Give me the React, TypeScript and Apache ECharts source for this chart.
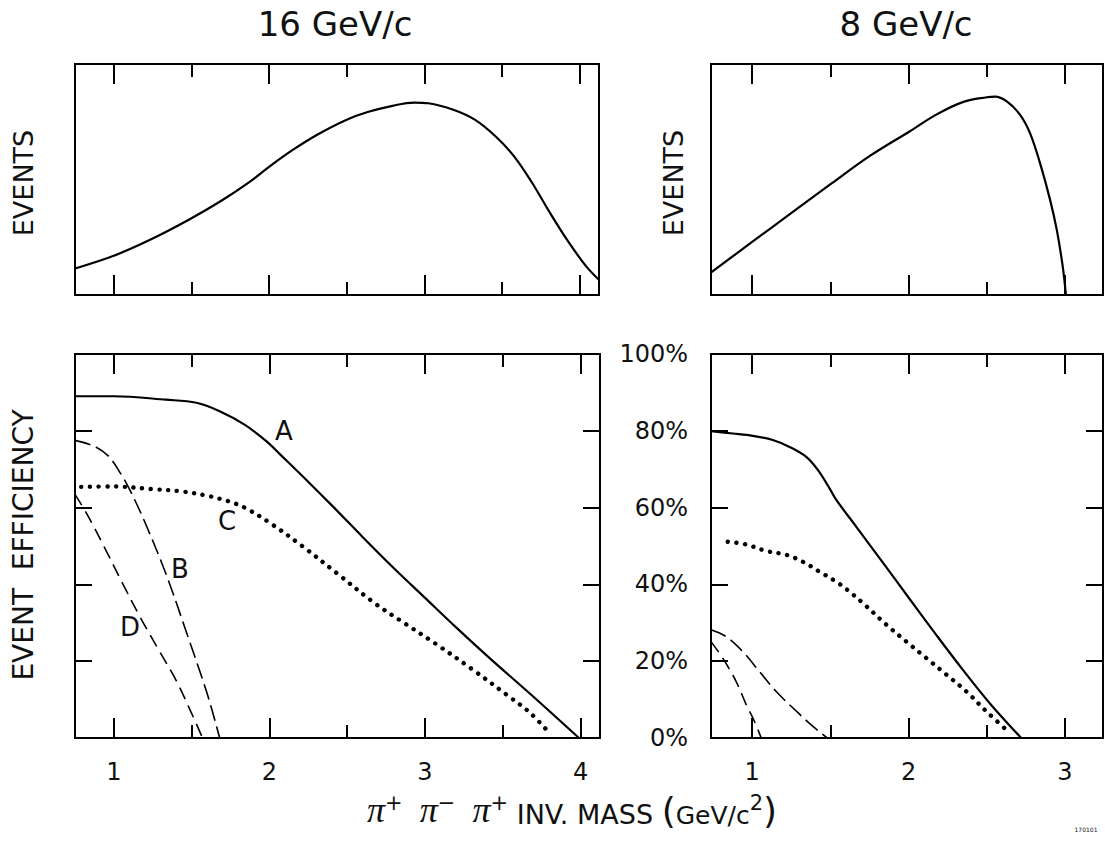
import React, { useEffect, useRef } from "react";
import * as echarts from "echarts";

const FONT = "DejaVu Sans";

// ---- data (mass in GeV/c^2) ----
// 16 GeV/c : events spectrum (arbitrary units)
const ev16Mass = [0.751, 1.0, 1.23, 1.483, 1.69, 1.875, 2.0, 2.15, 2.31, 2.5, 2.635, 2.795, 2.934, 3.026, 3.187, 3.325, 3.463, 3.578, 3.694, 3.809, 3.924, 4.04, 4.124];
const ev16Events = [11.5, 17, 23.8, 32.6, 40.7, 49.0, 55.5, 62.7, 69.4, 75.9, 79.2, 81.9, 83.3, 83, 80.2, 75.9, 68.4, 60, 48.6, 35.6, 23.4, 12.6, 6.6];
// 8 GeV/c : events spectrum
const ev8Mass = [0.738, 1.0, 1.245, 1.51, 1.755, 2.006, 2.18, 2.351, 2.5, 2.553, 2.628, 2.713, 2.777, 2.84, 2.904, 2.947, 2.985, 3.006];
const ev8Events = [9.8, 23, 35.2, 48.4, 60.3, 70.8, 78.2, 83.6, 85.6, 85.9, 83.8, 78, 70, 57.2, 41.4, 28.4, 12.6, 0];

// 16 GeV/c efficiencies (%)
const eff16AMass = [0.749, 1.0, 1.335, 1.53, 1.68, 1.84, 1.98, 2.07, 2.26, 2.42, 2.6, 2.79, 3.0, 3.2, 3.41, 3.69, 3.99];
const eff16A = [89, 89, 88.1, 87.3, 85.1, 81.6, 77.3, 73.8, 66.3, 59.8, 52.3, 44.6, 36.5, 28.8, 21.0, 11.0, 0];
const eff16BMass = [0.749, 0.873, 0.965, 1.046, 1.1, 1.196, 1.335, 1.47, 1.6, 1.68];
const eff16B = [77.5, 76, 73.4, 68.7, 64.8, 56.5, 42.7, 27.1, 11.5, 0];
const eff16CMass = [0.79, 0.99, 1.25, 1.44, 1.61, 1.74, 1.84, 2.0, 2.21, 2.44, 2.67, 2.86, 3.07, 3.3, 3.53, 3.67, 3.78];
const eff16C = [65.4, 65.5, 64.8, 64.2, 63.0, 61.6, 60.0, 56.1, 50.0, 42.7, 35.3, 30.1, 24.5, 18.0, 11.1, 6.75, 2.2];
const eff16DMass = [0.749, 0.827, 0.94, 1.058, 1.17, 1.29, 1.4, 1.496, 1.57];
const eff16D = [63.5, 58.3, 49.6, 40.1, 31.4, 22.8, 15.0, 6.75, 0];

// 8 GeV/c efficiencies (%)
const eff8AMass = [0.737, 0.876, 1.004, 1.132, 1.239, 1.346, 1.42, 1.495, 1.538, 1.666, 1.837, 2.007, 2.178, 2.35, 2.52, 2.72];
const eff8A = [79.9, 79.3, 78.7, 77.6, 75.8, 73.2, 69.8, 65.0, 62.0, 55.0, 45.6, 36.2, 26.8, 17.6, 9.0, 0];
const eff8BMass = [0.737, 0.834, 0.94, 1.047, 1.154, 1.303, 1.389, 1.48];
const eff8B = [28.2, 26.4, 22.5, 17.3, 12.1, 6.2, 3.0, 0];
const eff8CMass = [0.844, 0.962, 1.09, 1.218, 1.324, 1.431, 1.538, 1.623, 1.72, 1.858, 1.986, 2.114, 2.242, 2.37, 2.498, 2.648];
const eff8C = [51.1, 50.4, 48.7, 47.7, 45.9, 43.3, 40.7, 38.1, 34.7, 29.5, 25.1, 20.8, 16.5, 12.1, 6.9, 1.3];
const eff8DMass = [0.737, 0.812, 0.898, 0.962, 1.015, 1.058];
const eff8D = [25.1, 20.8, 14.7, 8.7, 4.3, 0];

// ticks
const ticks16Major = [1, 2, 3, 4];
const ticks16Minor = [1.5, 2.5, 3.5];
const ticks8Major = [1, 2, 3];
const ticks8Minor = [1.5, 2.5];
const effTicks = [20, 40, 60, 80];
const effLabels = [0, 20, 40, 60, 80, 100];

const zip = (xs: number[], ys: number[]) => xs.map((x, i) => [x, ys[i]]);

function xAxesFor(gi: number, min: number, max: number, major: number[], minor: number[], labels: boolean) {
  const base: any = {
    type: "value",
    gridIndex: gi,
    min,
    max,
    splitLine: { show: false },
    axisLine: { show: false },
  };
  const tick = (vals: number[], len: number) => ({
    show: true,
    inside: true,
    length: len,
    customValues: vals,
    lineStyle: { color: "#000", width: 2 },
  });
  return [
    {
      ...base,
      position: "bottom",
      axisTick: tick(major, 20),
      axisLabel: labels
        ? { show: true, customValues: major, fontSize: 24, color: "#111", fontFamily: FONT, margin: 22 }
        : { show: false },
    },
    { ...base, position: "bottom", axisTick: tick(minor, 13), axisLabel: { show: false } },
    { ...base, position: "top", axisTick: tick(major, 20), axisLabel: { show: false } },
    { ...base, position: "top", axisTick: tick(minor, 13), axisLabel: { show: false } },
  ];
}

function effYAxis(gi: number, position: string, labels: boolean) {
  return {
    type: "value",
    gridIndex: gi,
    min: 0,
    max: 100,
    position,
    splitLine: { show: false },
    axisLine: { show: false },
    axisTick: { show: true, inside: true, length: 17, customValues: effTicks, lineStyle: { color: "#000", width: 2 } },
    axisLabel: labels
      ? { show: true, customValues: effLabels, formatter: "{value}%", fontSize: 24, color: "#111", fontFamily: FONT, margin: 23 }
      : { show: false },
  };
}

export default function App() {
  const ref = useRef<HTMLDivElement>(null);
  useEffect(() => {
    document.body.style.margin = "0";
    const chart = echarts.init(ref.current!, undefined, { renderer: "svg" });

    const gridStyle = { show: true, borderColor: "#000", borderWidth: 2, backgroundColor: "transparent" };
    const grids = [
      { left: 75, top: 64, width: 524, height: 231, ...gridStyle },
      { left: 711, top: 64, width: 392, height: 231, ...gridStyle },
      { left: 75, top: 354, width: 525, height: 384, ...gridStyle },
      { left: 711, top: 354, width: 392, height: 384, ...gridStyle },
    ];

    const xAxis = [
      ...xAxesFor(0, 0.75, 4.125, ticks16Major, ticks16Minor, false),
      ...xAxesFor(1, 0.737, 3.243, ticks8Major, ticks8Minor, false),
      ...xAxesFor(2, 0.75, 4.125, ticks16Major, ticks16Minor, true),
      ...xAxesFor(3, 0.737, 3.243, ticks8Major, ticks8Minor, true),
    ];

    const yAxis = [
      { type: "value", gridIndex: 0, min: 0, max: 100, show: false, splitLine: { show: false } },
      { type: "value", gridIndex: 1, min: 0, max: 100, show: false, splitLine: { show: false } },
      effYAxis(2, "left", false),
      effYAxis(2, "right", false),
      effYAxis(3, "left", true),
      effYAxis(3, "right", false),
    ];

    const solid = { color: "#000", width: 2.2, type: "solid" };
    const longDash = { color: "#000", width: 1.6, type: [16, 6] };
    const dashed = { color: "#000", width: 1.6, type: [13, 7] };
    const dotted = { color: "#000", width: 4.4, type: [0.1, 8.6], cap: "round" };

    const line = (name: string, data: number[][], xi: number, yi: number, lineStyle: any) => ({
      name,
      type: "line",
      data,
      xAxisIndex: xi,
      yAxisIndex: yi,
      showSymbol: false,
      symbol: "none",
      smooth: 0.35,
      silent: true,
      lineStyle,
    });

    const series = [
      line("Events 16", zip(ev16Mass, ev16Events), 0, 0, solid),
      line("Events 8", zip(ev8Mass, ev8Events), 4, 1, solid),
      line("A 16", zip(eff16AMass, eff16A), 8, 2, solid),
      line("B 16", zip(eff16BMass, eff16B), 8, 2, longDash),
      line("C 16", zip(eff16CMass, eff16C), 8, 2, dotted),
      line("D 16", zip(eff16DMass, eff16D), 8, 2, dashed),
      line("A 8", zip(eff8AMass, eff8A), 12, 4, solid),
      line("B 8", zip(eff8BMass, eff8B), 12, 4, longDash),
      line("C 8", zip(eff8CMass, eff8C), 12, 4, dotted),
      line("D 8", zip(eff8DMass, eff8D), 12, 4, dashed),
    ];

    const txt = (text: string, x: number, y: number, size: number, rotation = 0) => ({
      type: "text",
      x,
      y,
      rotation,
      silent: true,
      style: { text, fontSize: size, fontFamily: FONT, fill: "#111", align: "center", verticalAlign: "middle" },
    });

    const graphic = [
      txt("16 GeV/c", 335, 24, 34),
      txt("8 GeV/c", 906, 24, 34),
      txt("EVENTS", 23, 183, 27, Math.PI / 2),
      txt("EVENTS", 673, 183, 27, Math.PI / 2),
      txt("EVENT  EFFICIENCY", 23, 545, 28, Math.PI / 2),
      txt("A", 284, 431, 26),
      txt("C", 227, 521, 26),
      txt("B", 180, 569, 26),
      txt("D", 130, 627, 26),
      {
        type: "text",
        x: 572,
        y: 810,
        silent: true,
        style: {
          text: "{pi|π}{sup|+}{n|  }{pi|π}{sup|−}{n|  }{pi|π}{sup|+}{n| INV. MASS }{par|(}{s|GeV/c}{sup|2}{par|)}",
          align: "center",
          verticalAlign: "middle",
          fill: "#111",
          fontFamily: FONT,
          rich: {
            pi: { fontSize: 36, fontFamily: "Liberation Serif", fontStyle: "italic", verticalAlign: "bottom", fill: "#111" },
            sup: { fontSize: 21, fontFamily: FONT, verticalAlign: "top", fill: "#111" },
            n: { fontSize: 27, fontFamily: FONT, verticalAlign: "bottom", fill: "#111" },
            par: { fontSize: 36, fontFamily: FONT, verticalAlign: "bottom", fill: "#111" },
            s: { fontSize: 25, fontFamily: FONT, verticalAlign: "bottom", fill: "#111" },
          },
        },
      },
      txt("170101", 1086, 829, 6),
    ];

    chart.setOption({
      animation: false,
      backgroundColor: "#fff",
      grid: grids,
      xAxis,
      yAxis,
      series,
      graphic,
    });
    return () => chart.dispose();
  }, []);
  return <div ref={ref} style={{ width: 1105, height: 843 }} />;
}
